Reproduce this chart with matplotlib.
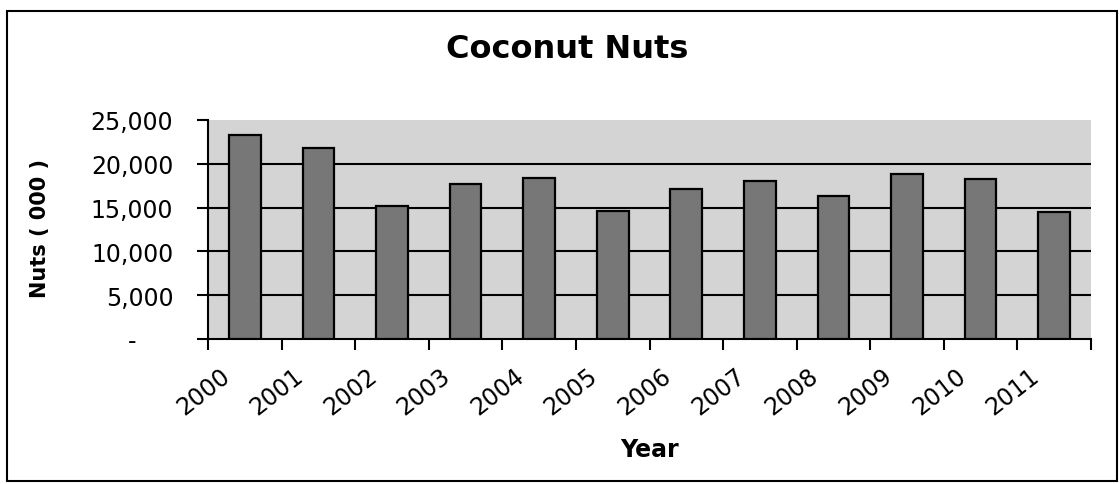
import matplotlib.pyplot as plt
from matplotlib.patches import Rectangle
from matplotlib.transforms import ScaledTranslation

years = ['2000', '2001', '2002', '2003', '2004', '2005',
         '2006', '2007', '2008', '2009', '2010', '2011']
nuts = [23300, 21800, 15200, 17700, 18400, 14600,
        17100, 18000, 16300, 18800, 18300, 14500]
y_ticks = [0, 5000, 10000, 15000, 20000, 25000]
y_labels = ['-', '5,000', '10,000', '15,000', '20,000', '25,000']

fig = plt.figure(figsize=(11.2, 4.85), dpi=100)
ax = fig.add_axes([208 / 1120, 1 - 340 / 485, 883 / 1120, 219 / 485])
ax.set_facecolor('#d4d4d4')

x = list(range(len(years)))
ax.bar(x, nuts, width=0.43, color='#777777', edgecolor='black',
       linewidth=1.6, zorder=3)

ax.set_xlim(-0.5, len(years) - 0.5)
ax.set_ylim(0, 25000)

# black gridlines behind the bars
for v in y_ticks[1:-1]:
    ax.axhline(v, color='black', linewidth=1.5, zorder=1)

ax.set_yticks(y_ticks)
ax.set_yticklabels(y_labels, fontsize=17)
ax.tick_params(axis='y', direction='out', length=8, width=1.5, pad=17)

# labels at category centers, tick marks at boundaries
ax.set_xticks(x)
ax.set_xticklabels(years, fontsize=17, rotation=38, ha='right',
                   va='center', rotation_mode='anchor')
ax.tick_params(axis='x', which='major', length=0, pad=24)
ax.set_xticks([i - 0.5 for i in range(len(years) + 1)], minor=True)
ax.tick_params(axis='x', which='minor', direction='out', length=8, width=1.5)
shift = ScaledTranslation(-18 / 100, 0, fig.dpi_scale_trans)
for lab in ax.get_xticklabels():
    lab.set_transform(lab.get_transform() + shift)

zero_lab = ax.get_yticklabels()[0]
zero_lab.set_transform(zero_lab.get_transform()
                       + ScaledTranslation(-37 / 100, 0, fig.dpi_scale_trans))

for s in ['top', 'right']:
    ax.spines[s].set_visible(False)
ax.spines['left'].set_linewidth(1.5)
ax.spines['bottom'].set_linewidth(1.5)

fig.text(567 / 1120, 1 - 50 / 485, 'Coconut Nuts', fontsize=23,
         fontweight='bold', ha='center', va='center')
fig.text(650 / 1120, 1 - 450 / 485, 'Year', fontsize=17,
         fontweight='bold', ha='center', va='center')
fig.text(40 / 1120, 1 - 229 / 485, 'Nuts ( 000 )', fontsize=15,
         fontweight='bold', ha='center', va='center', rotation=90)

# outer chart border
fig.patches.append(Rectangle((7 / 1120, 1 - 482 / 485), 1110 / 1120,
                             470 / 485, transform=fig.transFigure,
                             fill=False, edgecolor='black', linewidth=1.5))

fig.savefig('out.png', dpi=100)
